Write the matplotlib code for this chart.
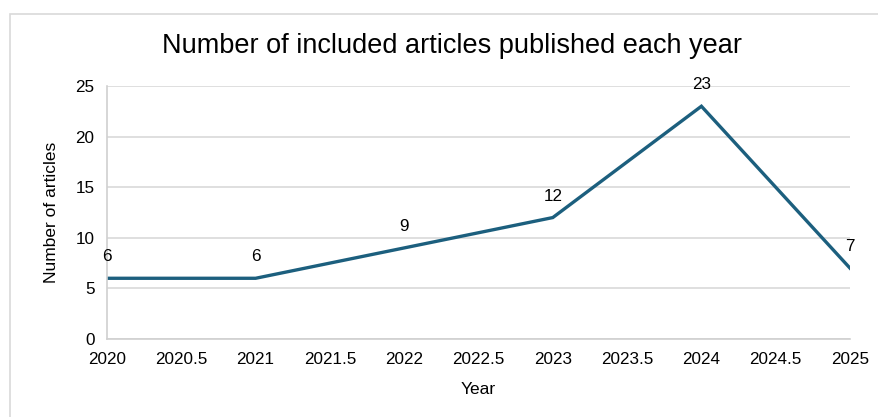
import matplotlib.pyplot as plt
from matplotlib.patches import Rectangle

# data
years = [2020, 2021, 2022, 2023, 2024, 2025]
articles = [6, 6, 9, 12, 23, 7]
x_ticks = [2020, 2020.5, 2021, 2021.5, 2022, 2022.5, 2023, 2023.5, 2024, 2024.5, 2025]
y_ticks = [0, 5, 10, 15, 20, 25]

line_color = '#1c5f7e'
grid_color = '#d9d9d9'

plt.rcParams['font.family'] = ['Liberation Sans', 'DejaVu Sans']

fig = plt.figure(figsize=(8.79, 4.17), dpi=100)
W, H = 879, 417

# chart frame (cropped at right and bottom like in the screenshot)
fig.patches.append(Rectangle((10 / W, -0.05), 1.0, 1 - 14 / H + 0.05,
                             transform=fig.transFigure, fill=False,
                             edgecolor='#d9d9d9', linewidth=1.2))

ax = fig.add_axes([107 / W, 1 - 339 / H, (850 - 107) / W, (339 - 86) / H])
ax.plot(years, articles, color=line_color, linewidth=2.4, solid_joinstyle='miter')

for x, y in zip(years, articles):
    ax.annotate(str(y), (x, y), xytext=(0, 10), textcoords='offset points',
                ha='center', va='bottom', fontsize=12.3, color='#000000')

ax.set_xlim(2020, 2025)
ax.set_ylim(0, 25)
ax.set_xticks(x_ticks)
ax.set_xticklabels([f'{t:g}' for t in x_ticks])
ax.set_yticks(y_ticks)
ax.tick_params(axis='both', length=0, labelsize=12.3, colors='#000000')
ax.tick_params(axis='x', pad=9)
ax.tick_params(axis='y', pad=9)
ax.yaxis.grid(True, color=grid_color, linewidth=1.2)
ax.set_axisbelow(True)
for side in ['top', 'right']:
    ax.spines[side].set_visible(False)
for side in ['left', 'bottom']:
    ax.spines[side].set_color('#d0d0d0')
    ax.spines[side].set_linewidth(1.2)

ax.set_xlabel('Year', fontsize=12.5, labelpad=11)
ax.set_ylabel('Number of articles', fontsize=12.5, labelpad=12)
fig.text(452 / W, 1 - 46 / H, 'Number of included articles published each year',
         ha='center', va='center', fontsize=19.5)

fig.savefig('out.png', dpi=100)
